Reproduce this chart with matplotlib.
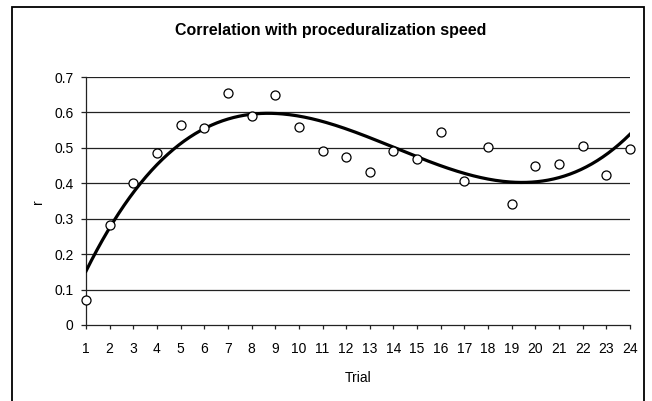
import numpy as np
import matplotlib.pyplot as plt
from matplotlib.patches import Rectangle

plt.rcParams['font.family'] = ['Liberation Sans', 'DejaVu Sans']

# Correlation per trial
trials = np.arange(1, 25)
r_vals = [0.07, 0.282, 0.402, 0.486, 0.565, 0.555, 0.655, 0.590, 0.648, 0.558,
          0.491, 0.475, 0.431, 0.492, 0.469, 0.544, 0.406, 0.502, 0.342, 0.448,
          0.454, 0.505, 0.423, 0.496]
yticks = [0, 0.1, 0.2, 0.3, 0.4, 0.5, 0.6, 0.7]

# 3rd order polynomial trendline, like Excel
coef = np.polyfit(trials, r_vals, 3)
xs = np.linspace(1, 24, 300)
ys = np.polyval(coef, xs)

fig = plt.figure(figsize=(6.52, 4.01), dpi=100)
ax = fig.add_axes([86/652, 1 - 325/401, 544/652, 248/401])

# outer chart border
fig.patches.append(Rectangle((12/652, -0.1), 632/652, 1.1 - 7/401, transform=fig.transFigure,
                             fill=False, edgecolor='black', linewidth=1.3))

for t in yticks[1:]:
    ax.axhline(t, color='#222222', linewidth=0.9, zorder=1)

ax.plot(xs, ys, color='black', linewidth=2.3, zorder=3)
ax.plot(trials, r_vals, 'o', markersize=6.5, markerfacecolor='white',
        markeredgecolor='black', markeredgewidth=0.9, zorder=4, clip_on=False)

ax.set_xlim(1, 24)
ax.set_ylim(0, 0.7)
ax.set_xticks(trials)
ax.set_yticks(yticks)
ax.set_yticklabels(['0' if t == 0 else f'{t:.1f}' for t in yticks])
ax.tick_params(labelsize=10, direction='out', width=0.9, color='#222222')
ax.tick_params(axis='x', length=3, pad=9.5)
ax.tick_params(axis='y', length=3.5, pad=5.5)
for s in ['top', 'right']:
    ax.spines[s].set_visible(False)
for s in ['left', 'bottom']:
    ax.spines[s].set_color('#222222')
    ax.spines[s].set_linewidth(0.9)

fig.text(331/652, 1 - 34.5/401, 'Correlation with proceduralization speed',
         ha='center', va='baseline', fontsize=11.5, fontweight='bold')
fig.text(358/652, 1 - 378/401, 'Trial', ha='center', va='center', fontsize=10)
fig.text(38/652, 1 - 202/401, 'r', ha='center', va='center', fontsize=10, rotation=90)

fig.savefig('out.png', dpi=100)
